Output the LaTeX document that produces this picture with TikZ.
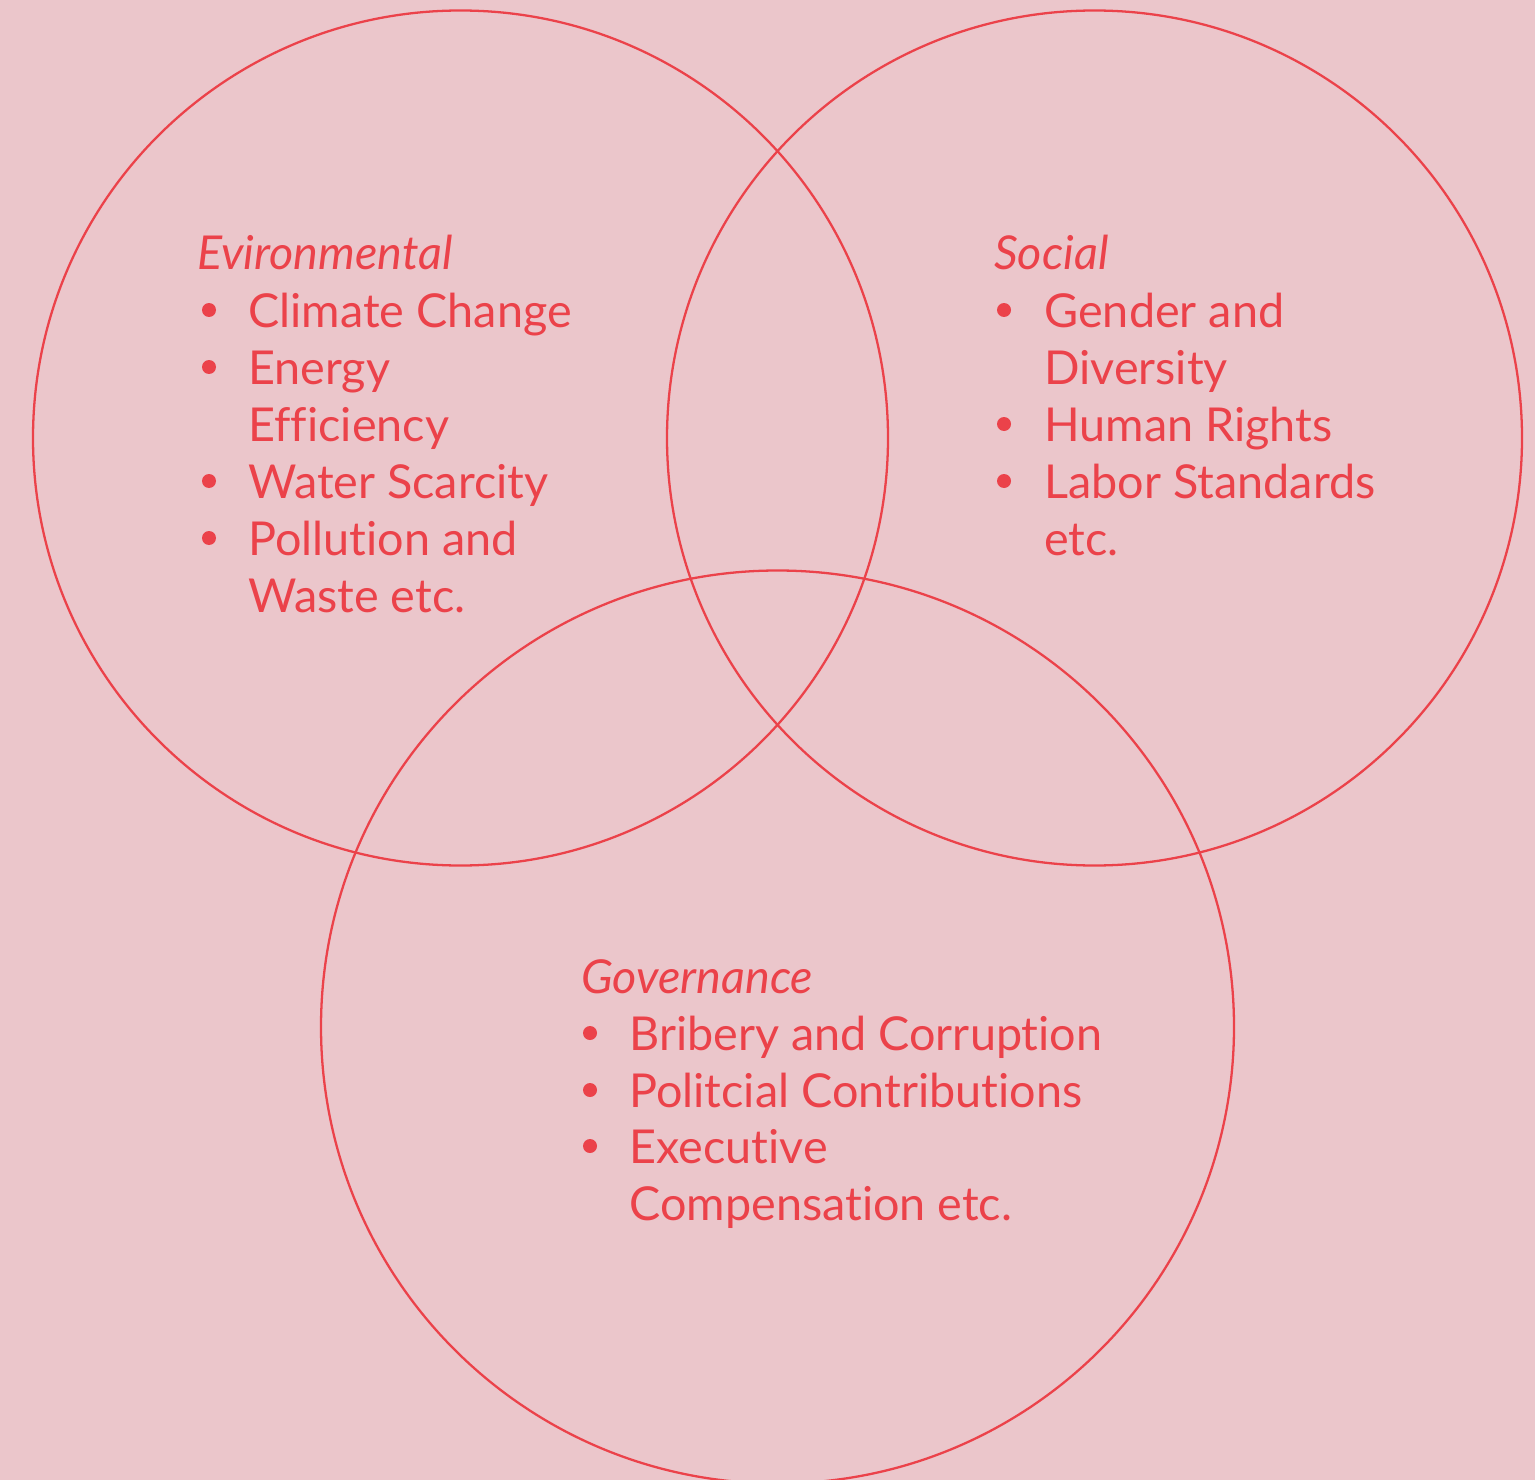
\documentclass[tikz,border=0pt]{standalone}
\usepackage{fontspec}
\setmainfont{Lato}[Ligatures=NoCommon]
\usepackage{tikz}
\usetikzlibrary{positioning}
\definecolor{esgred}{RGB}{235,66,74}
\definecolor{esgpink}{RGB}{235,198,203}
\tikzset{ring/.style={draw=esgred,line width=1.3pt},
  head/.style={anchor=base west,inner sep=0pt,text=esgred,font=\fontsize{26.6}{32}\selectfont\itshape},
  item/.style={anchor=base west,inner sep=0pt,text=esgred,font=\fontsize{26.6}{32}\selectfont},
  dot/.style={circle,fill=esgred,inner sep=0pt,minimum size=0.28cm},}

\begin{document}
\begin{tikzpicture}[x=0.02cm,y=-0.02cm]
        \fill[esgpink] (0,0) rectangle (1535,1480);
        \useasboundingbox (0,0) rectangle (1535,1480);

        % the three circles
        \draw[ring] (460.5,438) circle (427.5*0.02cm);
        \draw[ring] (1094.5,438) circle (427.5*0.02cm);
        \draw[ring] (777.5,1027) circle (456.5*0.02cm);

        % environmental
        \node[head] (env) at (197,270) {Evironmental};
        \node[item] (env1) at (248,327) {Climate Change};
        \node[item] (env2) at (248,384) {Energy};
        \node[item] (env2b) at (248,441) {Efficiency};
        \node[item] (env3) at (248,498) {Water Scarcity};
        \node[item] (env4) at (248,555) {Pollution and};
        \node[item] (env4b) at (248,612) {Waste etc.};
        \node[dot] (d1) at (209,310) {};
        \node[dot] (d2) at (209,367) {};
        \node[dot] (d3) at (209,481) {};
        \node[dot] (d4) at (209,538) {};

        % social
        \node[head] (soc) at (994,270) {Social};
        \node[item] (soc1) at (1044,327) {Gender and};
        \node[item] (soc1b) at (1044,384) {Diversity};
        \node[item] (soc2) at (1044,441) {Human Rights};
        \node[item] (soc3) at (1044,498) {Labor Standards};
        \node[item] (soc3b) at (1044,555) {etc.};
        \node[dot] (d5) at (1004,310) {};
        \node[dot] (d6) at (1004,424) {};
        \node[dot] (d7) at (1004,481) {};

        % governance
        \node[head] (gov) at (581,993) {Governance};
        \node[item] (gov1) at (629,1050) {Bribery and Corruption};
        \node[item] (gov2) at (629,1107) {Politcial Contributions};
        \node[item] (gov3) at (629,1163) {Executive};
        \node[item] (gov3b) at (629,1220) {Compensation etc.};
        \node[dot] (d8) at (590,1033) {};
        \node[dot] (d9) at (590,1090) {};
        \node[dot] (d10) at (590,1146) {};
    \end{tikzpicture}
\end{document}
